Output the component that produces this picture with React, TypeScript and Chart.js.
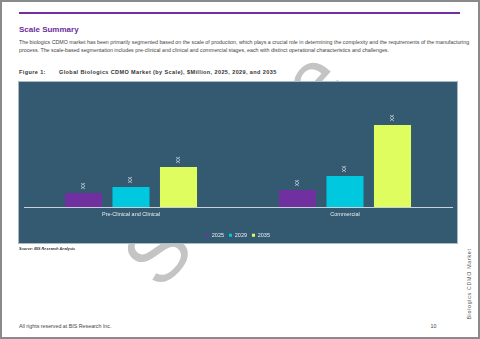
import React, { useEffect, useRef } from "react";
import { Chart, registerables } from "chart.js";

Chart.register(...registerables);

const categories = ["Pre-Clinical and Clinical", "Commercial"];
const seriesNames = ["2025", "2029", "2035"];
const values2025 = [14, 17];
const values2029 = [20, 31];
const values2035 = [40, 82];
const seriesColors = ["#7030a0", "#00c9df", "#e0fd5f"];
const valueLabel = "XX";
const yMax = 115;

const FONT = "'Liberation Sans', Arial, sans-serif";

const xxPlugin = {
  id: "xxLabels",
  afterDatasetsDraw(chart: any) {
    const ctx = chart.ctx;
    ctx.save();
    ctx.font = `5px ${FONT}`;
    ctx.fillStyle = "#e6ecf0";
    ctx.textAlign = "center";
    ctx.textBaseline = "middle";
    chart.data.datasets.forEach((_: any, i: number) => {
      const meta = chart.getDatasetMeta(i);
      meta.data.forEach((el: any) => {
        ctx.save();
        ctx.translate(el.x, el.y - 7);
        ctx.rotate(-Math.PI / 2);
        ctx.fillText(valueLabel, 0, 0);
        ctx.restore();
      });
    });
    ctx.restore();
  },
};

function BarChart() {
  const ref = useRef<HTMLCanvasElement | null>(null);
  useEffect(() => {
    if (!ref.current) return;
    const seriesValues = [values2025, values2029, values2035];
    const chart = new Chart(ref.current, {
      type: "bar",
      data: {
        labels: categories,
        datasets: seriesNames.map((name, i) => ({
          label: name,
          data: seriesValues[i],
          backgroundColor: seriesColors[i],
          borderWidth: 0,
          categoryPercentage: 0.666,
          barPercentage: 0.78,
        })),
      },
      options: {
        animation: false,
        responsive: false,
        maintainAspectRatio: false,
        layout: { padding: { left: 5, right: 5, top: 10, bottom: 0 } },
        scales: {
          x: {
            grid: { display: false, drawTicks: false },
            border: { display: true, color: "#c9d2d8", width: 1 },
            ticks: { color: "#e8eef2", font: { size: 5.5, family: FONT }, padding: 4 },
            afterFit: (scale: any) => {
              scale.height = 20.5;
            },
          },
          y: { display: false, min: 0, max: yMax },
        },
        plugins: {
          legend: {
            position: "bottom",
            labels: {
              boxWidth: 3,
              boxHeight: 3,
              color: "#e8eef2",
              font: { size: 5.5, family: FONT },
              padding: 5,
            },
          },
          tooltip: { enabled: false },
        },
      },
      plugins: [xxPlugin],
    });
    return () => chart.destroy();
  }, []);
  return <canvas ref={ref} width={438} height={166} style={{ display: "block" }} />;
}

export default function App() {
  const abs = (s: React.CSSProperties): React.CSSProperties => ({ position: "absolute", whiteSpace: "nowrap", ...s });
  return (
    <div
      style={{
        position: "fixed",
        left: 0,
        top: 0,
        width: 480,
        height: 339,
        boxSizing: "border-box",
        border: "2px solid #8a8a8a",
        background: "#fff",
        fontFamily: FONT,
        overflow: "hidden",
      }}
    >
      <div style={{ position: "absolute", left: -2, top: -2, width: 480, height: 339 }}>
        <div style={abs({ left: 19, top: 11.5, width: 441, height: 2.2, background: "#7030a0" })} />
        <div style={abs({ left: 19, top: 24.5, fontSize: 8, fontWeight: "bold", color: "#6b2d9a", lineHeight: "10px" })}>
          Scale Summary
        </div>
        <div
          style={abs({
            left: 233,
            top: 168,
            transform: "translate(-50%, -50%) rotate(-48deg)",
            fontSize: 83,
            color: "#c4c4c4",
            lineHeight: "83px",
          })}
        >
          Sample
        </div>
        <div style={abs({ left: 19, top: 38, fontSize: 5.3, color: "#444", lineHeight: "8px" })}>
          The biologics CDMO market has been primarily segmented based on the scale of production, which plays a crucial role in determining the complexity and the requirements of the manufacturing
          <br />
          process. The scale-based segmentation includes pre-clinical and clinical and commercial stages, each with distinct operational characteristics and challenges.
        </div>
        <div style={abs({ left: 19, top: 69, fontSize: 5.5, fontWeight: "bold", color: "#333", letterSpacing: 0.4, lineHeight: "7px" })}>
          Figure 1:
        </div>
        <div style={abs({ left: 59, top: 69, fontSize: 5.5, fontWeight: "bold", color: "#333", letterSpacing: 0.4, lineHeight: "7px" })}>
          Global Biologics CDMO Market (by Scale), $Million, 2025, 2029, and 2035
        </div>
        <div
          style={abs({
            left: 19,
            top: 82,
            width: 438,
            height: 161,
            background: "#345a72",
            outline: "1px solid #a9b8c3",
            overflow: "hidden",
          })}
        >
          <BarChart />
        </div>
        <div style={abs({ left: 19, top: 247, fontSize: 3.8, fontWeight: "bold", fontStyle: "italic", color: "#333", lineHeight: "5px" })}>
          Source: BIS Research Analysis
        </div>
        <div style={abs({ left: 19, top: 322.5, fontSize: 5.3, color: "#444", lineHeight: "7px" })}>
          All rights reserved at BIS Research Inc.
        </div>
        <div style={abs({ left: 430.5, top: 322.5, fontSize: 5.3, color: "#444", lineHeight: "7px" })}>10</div>
        <div
          style={abs({
            left: 469,
            top: 284,
            transform: "translate(-50%, -50%) rotate(-90deg)",
            fontSize: 5.3,
            color: "#555",
            letterSpacing: 0.7,
            lineHeight: "7px",
          })}
        >
          Biologics CDMO Market
        </div>
      </div>
    </div>
  );
}
